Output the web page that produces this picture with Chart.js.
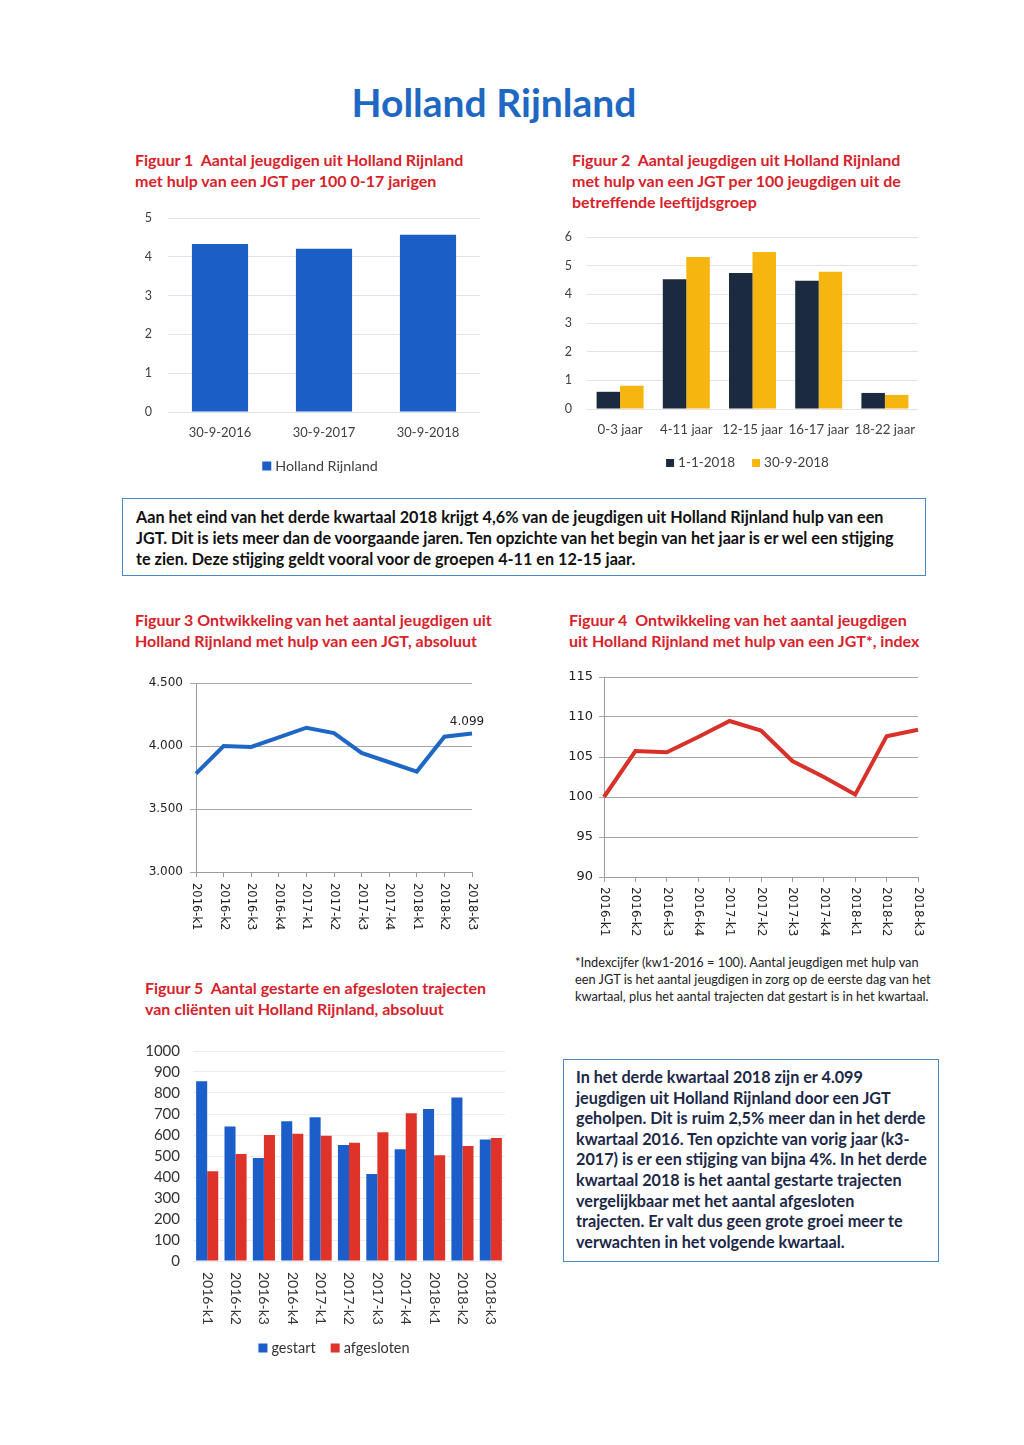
<!DOCTYPE html>
<html><head><meta charset="utf-8">
<script src="https://cdn.jsdelivr.net/npm/chart.js@4.4.0/dist/chart.umd.min.js"></script>
<style>
html,body{margin:0;padding:0;background:#fff;}
body{width:1024px;height:1445px;position:relative;overflow:hidden;font-family:Lato,sans-serif;}
.abs{position:absolute;white-space:nowrap;}
.h{color:#1e68c2;font-weight:700;font-size:39px;line-height:40px;transform:translateX(-50%);}
.ft{color:#d8222b;font-weight:700;font-size:16px;line-height:21px;}
.box{position:absolute;border:1.5px solid #4d87c7;box-sizing:border-box;}
.bt{font-weight:700;font-size:16.2px;color:#111;}
canvas{position:absolute;}
</style></head><body>

<div class="abs h" style="left:494px;top:82px;">Holland Rijnland</div>
<div class="abs ft" style="left:135px;top:149px;">Figuur 1&nbsp; Aantal jeugdigen uit Holland Rijnland<br>met hulp van een JGT per 100 0-17 jarigen</div>
<div class="abs ft" style="left:572px;top:149px;">Figuur 2&nbsp; Aantal jeugdigen uit Holland Rijnland<br>met hulp van een JGT per 100 jeugdigen uit de<br>betreffende leeftijdsgroep</div>

<div class="box" style="left:122px;top:498px;width:804px;height:78px;"></div>
<div class="abs bt" style="left:136px;top:506px;line-height:21px;">Aan het eind van het derde kwartaal 2018 krijgt 4,6% van de jeugdigen uit Holland Rijnland hulp van een<br>JGT. Dit is iets meer dan de voorgaande jaren. Ten opzichte van het begin van het jaar is er wel een stijging<br>te zien. Deze stijging geldt vooral voor de groepen 4-11 en 12-15 jaar.</div>

<div class="abs ft" style="left:135px;top:609px;">Figuur 3 Ontwikkeling van het aantal jeugdigen uit<br>Holland Rijnland met hulp van een JGT, absoluut</div>
<div class="abs ft" style="left:569px;top:609px;">Figuur 4&nbsp; Ontwikkeling van het aantal jeugdigen<br>uit Holland Rijnland met hulp van een JGT*, index</div>

<div class="abs" style="left:575px;top:954px;font-size:12.8px;line-height:17px;color:#222;">*Indexcijfer (kw1-2016 = 100). Aantal jeugdigen met hulp van<br>een JGT is het aantal jeugdigen in zorg op de eerste dag van het<br>kwartaal, plus het aantal trajecten dat gestart is in het kwartaal.</div>

<div class="abs ft" style="left:145px;top:977px;">Figuur 5&nbsp; Aantal gestarte en afgesloten trajecten<br>van cliënten uit Holland Rijnland, absoluut</div>

<div class="box" style="left:563px;top:1059px;width:376px;height:203px;"></div>
<div class="abs bt" style="left:576px;top:1067px;line-height:20.6px;color:#1c2847;">In het derde kwartaal 2018 zijn er 4.099<br>jeugdigen uit Holland Rijnland door een JGT<br>geholpen. Dit is ruim 2,5% meer dan in het derde<br>kwartaal 2016. Ten opzichte van vorig jaar (k3-<br>2017) is er een stijging van bijna 4%. In het derde<br>kwartaal 2018 is het aantal gestarte trajecten<br>vergelijkbaar met het aantal afgesloten<br>trajecten. Er valt dus geen grote groei meer te<br>verwachten in het volgende kwartaal.</div>

<canvas id="c1" width="360" height="284" style="left:130px;top:200px;"></canvas>
<canvas id="c2" width="370" height="261" style="left:560px;top:220px;"></canvas>
<canvas id="c3" width="360" height="285" style="left:130px;top:665px;"></canvas>
<canvas id="c4" width="370" height="285" style="left:560px;top:660px;"></canvas>
<canvas id="c5" width="380" height="326" style="left:130px;top:1040px;"></canvas>

<script>
// ---- data ----
const fig1Categories = ['30-9-2016', '30-9-2017', '30-9-2018'];
const fig1Values = [4.33, 4.21, 4.57];
const fig1Series = 'Holland Rijnland';

const fig2Categories = ['0-3 jaar', '4-11 jaar', '12-15 jaar', '16-17 jaar', '18-22 jaar'];
const fig2Jan2018 = [0.60, 4.53, 4.74, 4.47, 0.56];
const fig2Sep2018 = [0.81, 5.30, 5.48, 4.79, 0.49];
const fig2SeriesNames = ['1-1-2018', '30-9-2018'];

const quarters = ['2016-k1', '2016-k2', '2016-k3', '2016-k4', '2017-k1', '2017-k2', '2017-k3', '2017-k4', '2018-k1', '2018-k2', '2018-k3'];
const fig3Absolute = [3781, 4000, 3992, 4069, 4145, 4103, 3945, 3871, 3797, 4074, 4099];
const fig4Index = [100, 105.75, 105.6, 107.5, 109.5, 108.3, 104.5, 102.5, 100.3, 107.6, 108.4];
const fig5Started = [856, 641, 490, 665, 684, 552, 414, 532, 724, 779, 578];
const fig5Closed = [427, 510, 600, 606, 597, 563, 613, 703, 503, 548, 586];
const fig5SeriesNames = ['gestart', 'afgesloten'];

// ---- helpers ----
const fmtNL = v => String(Math.round(v)).replace(/\B(?=(\d{3})+(?!\d))/g, '.');
const CAL = 'Lato';
const VER = 'DejaVu Sans';

const verticalLabels = {
  id: 'verticalLabels',
  afterDraw(chart, args, opts) {
    const s = chart.scales.x, ctx = chart.ctx;
    ctx.save();
    ctx.font = opts.font; ctx.fillStyle = opts.color;
    ctx.textAlign = 'left'; ctx.textBaseline = 'middle';
    chart.data.labels.forEach((lab, i) => {
      const x = s.getPixelForValue(i);
      ctx.save(); ctx.translate(x, s.top + opts.offset); ctx.rotate(Math.PI / 2);
      ctx.fillText(lab, 0, 0); ctx.restore();
    });
    ctx.restore();
  }
};
const lastLabel = {
  id: 'lastLabel',
  afterDatasetsDraw(chart, args, opts) {
    const meta = chart.getDatasetMeta(0);
    const p = meta.data[meta.data.length - 1];
    const ds = chart.data.datasets[0].data;
    const ctx = chart.ctx;
    ctx.save(); ctx.font = opts.font; ctx.fillStyle = opts.color;
    ctx.textAlign = 'center'; ctx.textBaseline = 'middle';
    ctx.fillText(fmtNL(ds[ds.length - 1]), p.x + opts.dx, p.y + opts.dy);
    ctx.restore();
  }
};
const boxLegend = {
  id: 'boxLegend',
  afterDraw(chart, args, o) {
    const ctx = chart.ctx, ca = chart.chartArea;
    ctx.save(); ctx.font = o.font; ctx.textBaseline = 'middle'; ctx.textAlign = 'left';
    const items = chart.data.datasets.map(d => ({ text: d.label, color: d.backgroundColor, w: o.box + o.gap + ctx.measureText(d.label).width }));
    const total = items.reduce((s, it) => s + it.w, 0) + o.spacing * (items.length - 1);
    let x = (ca.left + ca.right) / 2 + (o.dx || 0) - total / 2;
    const y = ca.bottom + o.offset;
    items.forEach(it => {
      ctx.fillStyle = it.color; ctx.fillRect(x, y - o.box / 2, o.box, o.box);
      ctx.fillStyle = o.color; ctx.fillText(it.text, x + o.box + o.gap, y);
      x += it.w + o.spacing;
    });
    ctx.restore();
  }
};
const base = { responsive: false, animation: false, devicePixelRatio: 1, events: [] };

// ---- Figuur 1 ----
new Chart(document.getElementById('c1'), {
  type: 'bar',
  data: { labels: fig1Categories, datasets: [{ label: fig1Series, data: fig1Values, backgroundColor: '#1b5ec6', barPercentage: 0.9, categoryPercentage: 0.6 }] },
  plugins: [boxLegend],
  options: Object.assign({}, base, {
    layout: { padding: { top: 18, right: 10, left: 0, bottom: 0 } },
    plugins: { legend: { display: false }, tooltip: { enabled: false },
      boxLegend: { font: '14.3px Lato', color: '#404040', box: 9, gap: 4, spacing: 16, offset: 54, dx: -4 } },
    scales: {
      x: { grid: { display: false, drawTicks: false }, border: { display: false }, ticks: { color: '#404040', padding: 13.5, font: { family: CAL, size: 13 } }, afterFit: s => { s.height = 72; } },
      y: { min: 0, max: 5, ticks: { stepSize: 1, color: '#404040', padding: 2, font: { family: CAL, size: 12.5 } }, grid: { color: '#e3e3e3', drawTicks: true, tickLength: 14, tickColor: 'rgba(0,0,0,0)' }, border: { display: false }, afterFit: s => { s.width = 38; } }
    }
  })
});

// ---- Figuur 2 ----
new Chart(document.getElementById('c2'), {
  type: 'bar',
  data: { labels: fig2Categories, datasets: [
    { label: fig2SeriesNames[0], data: fig2Jan2018, backgroundColor: '#1c2a3f', barPercentage: 1, categoryPercentage: 0.71 },
    { label: fig2SeriesNames[1], data: fig2Sep2018, backgroundColor: '#f6b60f', barPercentage: 1, categoryPercentage: 0.71 }
  ] },
  plugins: [boxLegend],
  options: Object.assign({}, base, {
    layout: { padding: { top: 17, right: 12, left: 0, bottom: 0 } },
    plugins: { legend: { display: false }, tooltip: { enabled: false },
      boxLegend: { font: '13.5px Lato', color: '#404040', box: 8, gap: 4, spacing: 17, offset: 54, dx: -5 } },
    scales: {
      x: { grid: { display: false, drawTicks: false }, border: { display: false }, ticks: { color: '#404040', padding: 12.5, maxRotation: 0, autoSkip: false, font: { family: CAL, size: 13.3 } }, afterFit: s => { s.height = 72; } },
      y: { min: 0, max: 6, ticks: { stepSize: 1, color: '#404040', padding: 2, font: { family: CAL, size: 12.5 } }, grid: { color: '#e3e3e3', drawTicks: true, tickLength: 13, tickColor: 'rgba(0,0,0,0)' }, border: { display: false }, afterFit: s => { s.width = 27; } }
    }
  })
});

// ---- Figuur 3 ----
new Chart(document.getElementById('c3'), {
  type: 'line',
  data: { labels: quarters, datasets: [{ data: fig3Absolute, borderColor: '#1f67c4', borderWidth: 4, pointRadius: 0, tension: 0, fill: false }] },
  plugins: [verticalLabels, lastLabel],
  options: Object.assign({}, base, {
    layout: { padding: { top: 18, right: 18, left: 0, bottom: 0 } },
    plugins: { legend: { display: false }, tooltip: { enabled: false },
      verticalLabels: { font: '11.5px "DejaVu Sans"', color: '#222', offset: 11 },
      lastLabel: { font: '12px "DejaVu Sans"', color: '#222', dx: -5, dy: -12 } },
    scales: {
      x: { offset: false, ticks: { display: false }, grid: { drawOnChartArea: false, drawTicks: true, tickLength: 5, color: '#9a9a9a' }, border: { display: true, color: '#9a9a9a' }, afterFit: s => { s.height = 78; } },
      y: { min: 3000, max: 4500, ticks: { stepSize: 500, color: '#222', padding: 7, font: { family: VER, size: 12 }, callback: v => fmtNL(v) }, grid: { color: '#a6a6a6', drawTicks: true, tickLength: 6 }, border: { display: true, color: '#9a9a9a' }, afterFit: s => { s.width = 66; } }
    }
  })
});

// ---- Figuur 4 ----
new Chart(document.getElementById('c4'), {
  type: 'line',
  data: { labels: quarters, datasets: [{ data: fig4Index, borderColor: '#d8312a', borderWidth: 4, pointRadius: 0, tension: 0, fill: false }] },
  plugins: [verticalLabels],
  options: Object.assign({}, base, {
    layout: { padding: { top: 17, right: 12, left: 0, bottom: 0 } },
    plugins: { legend: { display: false }, tooltip: { enabled: false },
      verticalLabels: { font: '12px "DejaVu Sans"', color: '#222', offset: 10 } },
    scales: {
      x: { offset: false, ticks: { display: false }, grid: { drawOnChartArea: false, drawTicks: true, tickLength: 5, color: '#9a9a9a' }, border: { display: true, color: '#9a9a9a' }, afterFit: s => { s.height = 68; } },
      y: { min: 90, max: 115, ticks: { stepSize: 5, color: '#222', padding: 6, font: { family: VER, size: 13 } }, grid: { color: '#a6a6a6', drawTicks: true, tickLength: 5 }, border: { display: true, color: '#9a9a9a' }, afterFit: s => { s.width = 44; } }
    }
  })
});

// ---- Figuur 5 ----
new Chart(document.getElementById('c5'), {
  type: 'bar',
  data: { labels: quarters, datasets: [
    { label: fig5SeriesNames[0], data: fig5Started, backgroundColor: '#1b5ec9', barPercentage: 1, categoryPercentage: 0.78 },
    { label: fig5SeriesNames[1], data: fig5Closed, backgroundColor: '#df3228', barPercentage: 1, categoryPercentage: 0.78 }
  ] },
  plugins: [verticalLabels, boxLegend],
  options: Object.assign({}, base, {
    layout: { padding: { top: 11, right: 5, left: 0, bottom: 0 } },
    plugins: { legend: { display: false }, tooltip: { enabled: false },
      verticalLabels: { font: '14px Lato', color: '#333', offset: 11 },
      boxLegend: { font: '14.5px Lato', color: '#333', box: 9, gap: 4, spacing: 15, offset: 87, dx: -15 } },
    scales: {
      x: { ticks: { display: false }, grid: { display: false, drawTicks: false }, border: { display: false }, afterFit: s => { s.height = 105; } },
      y: { min: 0, max: 1000, ticks: { stepSize: 100, autoSkip: false, color: '#333', padding: 2, font: { family: CAL, size: 15 }, callback: v => String(v) }, grid: { color: '#ececec', drawTicks: true, tickLength: 11, tickColor: 'rgba(0,0,0,0)' }, border: { display: false }, afterFit: s => { s.width = 63; } }
    }
  })
});
</script>
</body></html>
